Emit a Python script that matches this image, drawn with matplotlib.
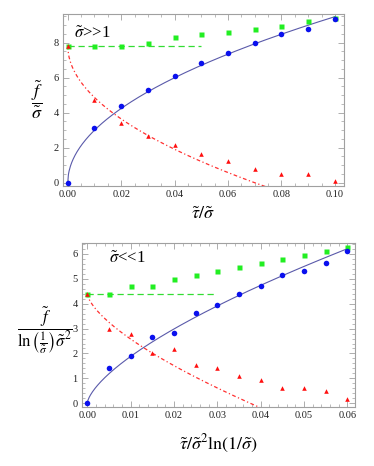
import numpy as np
import matplotlib
matplotlib.use("Agg")
import matplotlib.pyplot as plt
from matplotlib.ticker import MultipleLocator

plt.rcParams['font.family'] = ['Liberation Serif', 'DejaVu Serif']
plt.rcParams['mathtext.fontset'] = 'stix'

# ---- top panel: sigma >> 1 ----
x_top = [0.00, 0.01, 0.02, 0.03, 0.04, 0.05, 0.06, 0.07, 0.08, 0.09, 0.10]
blue_top = [0.0, 3.13, 4.38, 5.32, 6.12, 6.85, 7.39, 7.97, 8.48, 8.80, 9.35]
green_top = [7.83, 7.83, 7.83, 7.98, 8.31, 8.47, 8.62, 8.78, 8.93, 9.23, 9.43]
red_top = [7.80, 4.70, 3.42, 2.65, 2.17, 1.64, 1.23, 0.77, 0.48, 0.48, 0.07]
# theory curves: blue = a*sqrt(x), red = c - b*sqrt(x), green const up to x_end
top_a, top_b, top_c, top_xend = 30.0, 29.6, 7.83, 0.05

# ---- bottom panel: sigma << 1 ----
x_bot = [0.000, 0.005, 0.010, 0.015, 0.020, 0.025, 0.030, 0.035, 0.040, 0.045, 0.050, 0.055, 0.060]
blue_bot = [0.0, 1.43, 1.88, 2.67, 2.82, 3.61, 3.93, 4.39, 4.70, 5.17, 5.33, 5.64, 6.12]
green_bot = [4.40, 4.40, 4.71, 4.71, 5.01, 5.17, 5.33, 5.49, 5.65, 5.80, 5.95, 6.11, 6.27]
red_bot = [4.38, 2.97, 2.80, 2.01, 2.19, 1.55, 1.41, 1.10, 0.93, 0.63, 0.63, 0.48, 0.16]
# theory curves: blue = a*x^(2/3), red = c - b*x^(2/3)
bot_a, bot_b, bot_c, bot_xend = 40.5, 39.2, 4.40, 0.03

fig = plt.figure(figsize=(3.74, 4.66), dpi=100)
ax1 = fig.add_axes([0.1676, 0.6015, 0.7522, 0.3685])
ax2 = fig.add_axes([0.2184, 0.1273, 0.7306, 0.3519])

frame = '#a0a0a0'
c_blue_line = '#5a5aaa'


def style(ax):
    for s in ax.spines.values():
        s.set_color(frame)
        s.set_linewidth(0.8)
    ax.tick_params(which='both', direction='in', top=True, right=True,
                   color=frame, labelsize=7.5, labelcolor='#222222', pad=3)
    ax.tick_params(which='major', length=4, width=0.6)
    ax.tick_params(which='minor', length=2, width=0.5)


def draw(ax, x, g, r, b):
    ax.plot(x, g, 's', color='#22ee22', ms=3.6, mec='none', zorder=3)
    ax.plot(x, r, '^', color='#ff1010', ms=3.3, mec='none', zorder=4)
    ax.plot(x, b, 'o', color='#0a10ee', ms=4.0, mec='none', zorder=5)


# top
xs = np.linspace(0, 0.1, 400)
ax1.plot(xs, top_a * np.sqrt(xs), color=c_blue_line, lw=0.8, zorder=2)
ax1.plot(xs, top_c - top_b * np.sqrt(xs), color='#ff3030', lw=0.9,
         dashes=(3, 2, 1, 2), zorder=2)
ax1.plot([0, top_xend], [top_c, top_c], color='#33dd33', lw=0.9,
         dashes=(5, 3), zorder=2)
draw(ax1, x_top, green_top, red_top, blue_top)
ax1.set_xlim(-0.0019, 0.1034)
ax1.set_ylim(-0.17, 9.64)
ax1.set_xticks(np.arange(0, 0.101, 0.02))
ax1.set_xticklabels([f'{v:.2f}' for v in np.arange(0, 0.101, 0.02)])
ax1.xaxis.set_minor_locator(MultipleLocator(0.005))
ax1.yaxis.set_major_locator(MultipleLocator(2))
ax1.yaxis.set_minor_locator(MultipleLocator(0.5))
style(ax1)
ax1.text(0.04, 0.93, r'$\tilde{\sigma}$>>1', transform=ax1.transAxes,
         fontsize=12, va='top', ha='left')
ax1.set_xlabel(r'$\tilde{\tau}/\tilde{\sigma}$', fontsize=13, labelpad=5)
fig.text(0.10, 0.785, r'$\dfrac{\tilde{f}}{\tilde{\sigma}}$', fontsize=13,
         ha='center', va='center')

# bottom
xs = np.linspace(0, 0.06, 400)
ax2.plot(xs, bot_a * xs ** (2 / 3), color=c_blue_line, lw=0.8, zorder=2)
ax2.plot(xs, bot_c - bot_b * xs ** (2 / 3), color='#ff3030', lw=0.9,
         dashes=(3, 2, 1, 2), zorder=2)
ax2.plot([0, bot_xend], [bot_c, bot_c], color='#33dd33', lw=0.9,
         dashes=(5, 3), zorder=2)
draw(ax2, x_bot, green_bot, red_bot, blue_bot)
ax2.set_xlim(-0.00128, 0.06175)
ax2.set_ylim(-0.137, 6.45)
ax2.set_xticks(np.arange(0, 0.0601, 0.01))
ax2.set_xticklabels([f'{v:.2f}' for v in np.arange(0, 0.0601, 0.01)])
ax2.xaxis.set_minor_locator(MultipleLocator(0.002))
ax2.yaxis.set_major_locator(MultipleLocator(1))
ax2.yaxis.set_minor_locator(MultipleLocator(0.2))
style(ax2)
ax2.text(0.10, 0.95, r'$\tilde{\sigma}$<<1', transform=ax2.transAxes,
         fontsize=12, va='top', ha='left')
ax2.set_xlabel(r'$\tilde{\tau}/\tilde{\sigma}^2\ln(1/\tilde{\sigma})$',
               fontsize=13, labelpad=9)
fig.text(0.12, 0.292,
         r'$\dfrac{\tilde{f}}{\ln\left(\frac{1}{\tilde{\sigma}}\right)\tilde{\sigma}^2}$',
         fontsize=12, ha='center', va='center')

fig.savefig('out.png', dpi=100, facecolor='white')
